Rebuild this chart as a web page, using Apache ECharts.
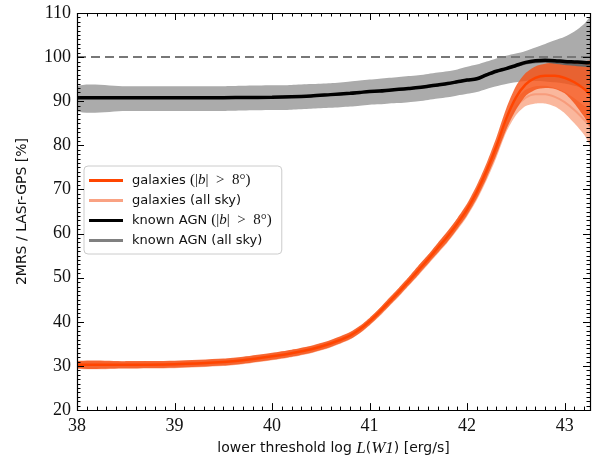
<!DOCTYPE html>
<html>
<head>
<meta charset="utf-8">
<script src="https://cdn.jsdelivr.net/npm/echarts@6/dist/echarts.min.js"></script>
<style>
  html, body { margin: 0; padding: 0; background: #fff; }
  #chart { width: 597px; height: 462px; }
</style>
</head>
<body>
<div id="chart"></div>
<script>
// lower threshold log L(W1) [erg/s]
const logL = [38.0, 38.5, 39.0, 39.5, 39.7, 40.0, 40.2, 40.4, 40.6, 40.8, 40.9, 41.0,
  41.1, 41.2, 41.3, 41.4, 41.5, 41.6, 41.7, 41.8, 41.9, 42.0, 42.1, 42.2, 42.3, 42.4,
  42.5, 42.6, 42.7, 42.8, 42.9, 43.0, 43.1, 43.2, 43.26];

// galaxies, |b| > 8 deg: median and spread
const galCut = [30.3, 30.3, 30.4, 30.9, 31.3, 32.2, 32.9, 33.8, 35.1, 36.9, 38.3, 40.1,
  42.2, 44.5, 46.8, 49.2, 51.7, 54.2, 56.8, 59.4, 62.3, 65.5, 69.5, 74.3, 79.8, 86.0,
  90.8, 93.8, 95.3, 95.8, 95.8, 95.3, 94.3, 92.8, 91.5];
const galCutLo = [29.5, 29.5, 29.6, 30.1, 30.5, 31.4, 32.1, 33.0, 34.3, 36.1, 37.5, 39.3,
  41.4, 43.6, 45.9, 48.3, 50.7, 53.2, 55.7, 58.2, 61.1, 64.2, 68.0, 72.6, 77.8, 83.5,
  88.0, 91.2, 92.6, 93.0, 92.8, 91.8, 89.5, 86.5, 84.5];
const galCutHi = [31.1, 31.1, 31.2, 31.7, 32.1, 33.0, 33.7, 34.6, 35.9, 37.7, 39.1, 40.9,
  43.0, 45.4, 47.7, 50.1, 52.7, 55.2, 57.9, 60.6, 63.5, 66.8, 71.0, 76.0, 81.8, 88.3,
  93.4, 96.4, 97.9, 98.5, 98.7, 98.8, 98.9, 99.0, 99.1];

// galaxies, all sky
const galAll = [30.2, 30.2, 30.3, 30.8, 31.2, 32.1, 32.8, 33.7, 35.0, 36.8, 38.2, 40.0,
  42.1, 44.4, 46.7, 49.1, 51.6, 54.1, 56.7, 59.2, 62.1, 65.2, 69.0, 73.6, 78.8, 84.6,
  88.6, 90.8, 91.6, 91.6, 91.0, 89.8, 88.0, 85.8, 84.3];
const galAllLo = [29.4, 29.4, 29.5, 30.0, 30.4, 31.3, 32.0, 32.9, 34.2, 36.0, 37.4, 39.2,
  41.2, 43.5, 45.7, 48.1, 50.5, 53.0, 55.5, 58.0, 60.8, 63.9, 67.6, 72.1, 77.2, 82.9,
  86.8, 88.9, 89.5, 89.5, 88.8, 87.3, 85.0, 82.4, 80.3];
const galAllHi = [31.0, 31.0, 31.1, 31.6, 32.0, 32.9, 33.6, 34.5, 35.8, 37.6, 39.0, 40.8,
  43.0, 45.3, 47.7, 50.1, 52.7, 55.2, 57.9, 60.4, 63.4, 66.5, 70.4, 75.1, 80.4, 86.3,
  90.4, 92.6, 93.4, 93.5, 93.0, 92.1, 90.7, 89.0, 88.3];

// known AGN
const agnCut = [90.8, 90.8, 90.8, 90.8, 90.85, 90.9, 91.0, 91.2, 91.5, 91.8, 92.0, 92.2,
  92.3, 92.5, 92.7, 92.9, 93.1, 93.4, 93.7, 94.0, 94.4, 94.8, 95.1, 96.0, 96.8, 97.4,
  98.1, 98.8, 99.2, 99.3, 99.2, 99.0, 98.9, 98.8, 98.7];
const agnAll = [90.8, 90.8, 90.8, 90.8, 90.85, 90.9, 91.0, 91.2, 91.5, 91.8, 92.0, 92.2,
  92.3, 92.5, 92.7, 92.9, 93.1, 93.4, 93.7, 94.0, 94.4, 94.8, 95.1, 96.0, 96.8, 97.4,
  98.0, 98.6, 98.9, 99.0, 98.8, 98.5, 98.3, 98.1, 97.9];
const agnLo = [87.8, 87.8, 87.8, 87.8, 87.9, 88.0, 88.1, 88.3, 88.5, 88.8, 89.0, 89.2,
  89.3, 89.5, 89.6, 89.8, 90.0, 90.3, 90.6, 90.9, 91.3, 91.7, 92.1, 92.8, 93.4, 93.9,
  94.3, 94.6, 94.6, 94.5, 94.3, 94.0, 93.5, 92.8, 92.0];
const agnHi = [93.4, 93.4, 93.4, 93.4, 93.5, 93.6, 93.7, 93.9, 94.1, 94.5, 94.7, 94.9,
  95.1, 95.3, 95.5, 95.7, 95.9, 96.2, 96.5, 96.8, 97.2, 97.8, 98.3, 99.0, 99.7, 100.3,
  100.8, 101.4, 102.2, 103.0, 103.8, 104.6, 105.8, 107.5, 108.9];

const xTicks = [38, 39, 40, 41, 42, 43];
const yTicks = [20, 30, 40, 50, 60, 70, 80, 90, 100, 110];
const parity = 100;

const X_MIN = 38, X_MAX = 43.26, Y_MIN = 20, Y_MAX = 110;

// minor tick positions: every 0.1 in log L and every 1 per cent
const xMinor = [];
for (let k = 381; k <= 432; k++) if (k % 10 !== 0) xMinor.push(k / 10);
const yMinor = [];
for (let k = Y_MIN; k <= Y_MAX; k++) if (k % 10 !== 0) yMinor.push(k);

const pairs = (ys) => logL.map((x, i) => [x, ys[i]]);

// shaded spread between a lower and an upper curve, as one polygon in data space
function band(lo, hi, color, z) {
  const rows = logL.map((x, i) => [x, lo[i], hi[i]]);
  return {
    type: 'custom', data: rows, z: z, silent: true, clip: true,
    xAxisIndex: 0, yAxisIndex: 0,
    encode: { x: 0, y: [1, 2] },
    renderItem: (params, api) => {
      if (params.dataIndex !== 0) return { type: 'group', children: [] };
      const top = rows.map((r) => api.coord([r[0], r[2]]));
      const bottom = rows.map((r) => api.coord([r[0], r[1]])).reverse();
      return {
        type: 'polygon',
        shape: { points: top.concat(bottom), smooth: 0.25 },
        style: { fill: color, stroke: null }
      };
    }
  };
}

function curve(name, ys, color, width, z) {
  return { type: 'line', name: name, data: pairs(ys), symbol: 'none', smooth: 0.3,
    lineStyle: { color: color, width: width }, itemStyle: { color: color },
    z: z, xAxisIndex: 0, yAxisIndex: 0 };
}

// plot frame with inward ticks on all four sides
const frame = {
  type: 'custom', silent: true, clip: false, z: 30, data: [[X_MIN, Y_MIN]],
  xAxisIndex: 0, yAxisIndex: 0, encode: { x: 0, y: 1 },
  renderItem: (params, api) => {
    const ch = [];
    const crisp = (v) => Math.round(v) + 0.5;
    const seg = (x1, y1, x2, y2) => ch.push({ type: 'line',
      shape: { x1: x1, y1: y1, x2: x2, y2: y2 }, style: { stroke: '#000', lineWidth: 1 } });
    const xTick = (v, len) => {
      const b = api.coord([v, Y_MIN]), t = api.coord([v, Y_MAX]);
      const x = crisp(b[0]);
      seg(x, b[1], x, b[1] - len);
      seg(x, t[1], x, t[1] + len);
    };
    const yTick = (v, len) => {
      const l = api.coord([X_MIN, v]), r = api.coord([X_MAX, v]);
      const y = crisp(l[1]);
      seg(l[0], y, l[0] + len, y);
      seg(r[0], y, r[0] - len, y);
    };
    xTicks.forEach((v) => xTick(v, 7));
    xMinor.forEach((v) => xTick(v, 3.5));
    yTicks.forEach((v) => yTick(v, 7));
    yMinor.forEach((v) => yTick(v, 3.5));
    const p0 = api.coord([X_MIN, Y_MAX]), p1 = api.coord([X_MAX, Y_MIN]);
    ch.push({ type: 'rect',
      shape: { x: crisp(p0[0]), y: crisp(p0[1]), width: Math.round(p1[0] - p0[0]), height: Math.round(p1[1] - p0[1]) },
      style: { fill: null, stroke: '#000', lineWidth: 1.2 } });
    return { type: 'group', children: ch };
  }
};

const serifLabel = { fontFamily: 'Liberation Serif', fontSize: 18, color: '#111' };

const xAxis = {
  type: 'value', min: X_MIN, max: X_MAX, interval: 1,
  axisLine: { show: false }, axisTick: { show: false }, splitLine: { show: false },
  axisLabel: Object.assign({ margin: 7, showMaxLabel: false,
    formatter: (v) => (xTicks.indexOf(v) >= 0 ? String(v) : '') }, serifLabel),
  name: '{t|lower threshold log }{m|L}{t|(}{m|W1}{t|) [erg/s]}',
  nameLocation: 'middle', nameGap: 26,
  nameTextStyle: { rich: {
    t: { fontFamily: 'DejaVu Sans', fontSize: 14, color: '#111' },
    m: { fontFamily: 'Liberation Serif', fontStyle: 'italic', fontSize: 17, color: '#111' }
  } }
};

const yAxis = {
  type: 'value', min: Y_MIN, max: Y_MAX, interval: 10,
  axisLine: { show: false }, axisTick: { show: false }, splitLine: { show: false },
  axisLabel: Object.assign({ margin: 6,
    formatter: (v) => (yTicks.indexOf(v) >= 0 ? String(v) : '') }, serifLabel),
  name: '2MRS / LASr-GPS [%]', nameLocation: 'middle', nameGap: 48,
  nameTextStyle: { fontFamily: 'DejaVu Sans', fontSize: 14, color: '#111' }
};

const legendRich = {
  t: { fontFamily: 'DejaVu Sans', fontSize: 13, color: '#111' },
  m: { fontFamily: 'Liberation Serif', fontStyle: 'italic', fontSize: 15, color: '#111' },
  s: { fontFamily: 'Liberation Serif', fontSize: 15, color: '#111' }
};
const legendText = {
  'galaxies (|b| > 8°)': '{t|galaxies }{s|(|}{m|b}{s||  >  8°)}',
  'galaxies (all sky)': '{t|galaxies (all sky)}',
  'known AGN (|b| > 8°)': '{t|known AGN }{s|(|}{m|b}{s||  >  8°)}',
  'known AGN (all sky)': '{t|known AGN (all sky)}'
};

const series = [
  band(agnLo, agnHi, '#ababab', 1),
  {
    type: 'line', data: [[X_MIN, parity], [X_MAX, parity]], symbol: 'none', silent: true,
    lineStyle: { color: '#777', width: 2, type: [9, 5] }, z: 2, xAxisIndex: 0, yAxisIndex: 0
  },
  band(galAllLo, galAllHi, 'rgba(249,170,140,0.85)', 3),
  curve('galaxies (all sky)', galAll, '#f79c7c', 2, 4),
  band(galCutLo, galCutHi, 'rgba(245,82,22,0.82)', 5),
  curve('galaxies (|b| > 8°)', galCut, '#ff4500', 2.5, 6),
  curve('known AGN (all sky)', agnAll, '#666', 2.5, 7),
  curve('known AGN (|b| > 8°)', agnCut, '#000', 3.5, 8),
  frame
];

const chart = echarts.init(document.getElementById('chart'), null, { renderer: 'canvas' });
chart.setOption({
  animation: false,
  backgroundColor: '#fff',
  grid: { left: 77, right: 7, top: 13, bottom: 49, containLabel: false },
  xAxis: xAxis,
  yAxis: yAxis,
  legend: {
    orient: 'vertical', left: 84, top: 166,
    data: [
      { name: 'galaxies (|b| > 8°)', itemStyle: { color: '#ff4500' } },
      { name: 'galaxies (all sky)', itemStyle: { color: '#f9a283' } },
      { name: 'known AGN (|b| > 8°)', itemStyle: { color: '#000' } },
      { name: 'known AGN (all sky)', itemStyle: { color: '#808080' } }
    ],
    icon: 'rect', itemWidth: 34, itemHeight: 3, itemGap: 6,
    padding: [7, 10, 7, 5],
    borderColor: '#cccccc', borderWidth: 1, borderRadius: 4,
    backgroundColor: 'rgba(255,255,255,0.85)',
    formatter: (n) => legendText[n],
    textStyle: { rich: legendRich, padding: [0, 0, 0, 4] }
  },
  series: series
});
</script>
</body>
</html>
